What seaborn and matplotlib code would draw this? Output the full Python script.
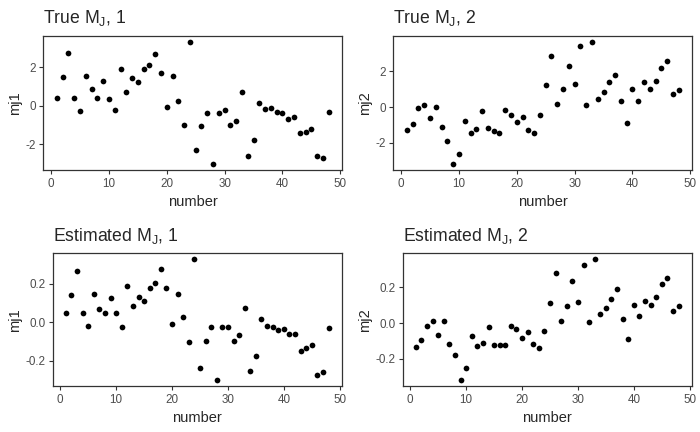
import matplotlib
matplotlib.use("Agg")
import matplotlib.pyplot as plt
import seaborn as sns

number = list(range(1, 49))

true_mj1 = [0.40, 1.49, 2.74, 0.40, -0.26, 1.54, 0.87, 0.40, 1.28, 0.35,
            -0.23, 1.91, 0.71, 1.44, 1.23, 1.91, 2.11, 2.69, 1.70, -0.07,
            1.54, 0.24, -1.01, 3.31, -2.30, -1.06, -0.38, -3.03, -0.38, -0.23,
            -1.01, -0.80, 0.71, -2.62, -1.79, 0.14, -0.17, -0.12, -0.33, -0.38,
            -0.69, -0.59, -1.42, -1.37, -1.21, -2.62, -2.72, -0.33]

true_mj2 = [-1.28, -0.95, -0.06, 0.11, -0.61, 0.00, -1.12, -1.90, -3.18, -2.62,
            -0.78, -1.45, -1.23, -0.22, -1.17, -1.34, -1.45, -0.17, -0.45, -0.84,
            -0.56, -1.28, -1.45, -0.45, 1.23, 2.85, 0.17, 1.00, 2.29, 1.28,
            3.40, 0.11, 3.63, 0.45, 0.84, 1.40, 1.79, 0.33, -0.89, 1.00,
            0.33, 1.40, 1.00, 1.45, 2.18, 2.57, 0.73, 0.95]

est_mj1 = [0.047, 0.140, 0.264, 0.047, -0.021, 0.145, 0.067, 0.047, 0.124, 0.047,
           -0.026, 0.186, 0.083, 0.129, 0.109, 0.176, 0.202, 0.274, 0.176, -0.010,
           0.145, 0.026, -0.103, 0.326, -0.238, -0.098, -0.026, -0.300, -0.026, -0.026,
           -0.098, -0.067, 0.072, -0.253, -0.176, 0.016, -0.021, -0.026, -0.041, -0.036,
           -0.062, -0.062, -0.150, -0.134, -0.119, -0.274, -0.259, -0.031]

est_mj2 = [-0.134, -0.095, -0.017, 0.011, -0.067, 0.011, -0.117, -0.179, -0.318, -0.251,
           -0.073, -0.128, -0.112, -0.022, -0.123, -0.123, -0.123, -0.017, -0.033, -0.084,
           -0.050, -0.117, -0.140, -0.045, 0.112, 0.279, 0.011, 0.095, 0.235, 0.117,
           0.324, 0.006, 0.357, 0.050, 0.084, 0.134, 0.191, 0.022, -0.089, 0.100,
           0.039, 0.123, 0.100, 0.145, 0.219, 0.251, 0.067, 0.095]

sns.set_style("ticks")
plt.rcParams["font.family"] = ["Liberation Sans", "DejaVu Sans"]
plt.rcParams["axes.unicode_minus"] = False
plt.rcParams["mathtext.fontset"] = "custom"
plt.rcParams["mathtext.rm"] = "Liberation Sans"

W, H = 700, 432
fig = plt.figure(figsize=(7, 4.32), dpi=100)


def panel(box, values, title, ylabel, yticks, ylabels):
    left, top, right, bottom = box
    ax = fig.add_axes([left / W, (H - bottom) / H, (right - left) / W, (bottom - top) / H])
    sns.scatterplot(x=number, y=values, ax=ax, color="black", s=17, linewidth=0)
    for side in ax.spines.values():
        side.set_visible(True)
        side.set_color("#333333")
        side.set_linewidth(0.9)
    ax.set_xticks([0, 10, 20, 30, 40, 50])
    ax.set_yticks(yticks)
    ax.set_yticklabels(ylabels)
    ax.tick_params(labelsize=8.4, labelcolor="#4D4D4D", color="#333333",
                   length=3, width=0.8, pad=2)
    ax.tick_params(axis="x", pad=3)
    ax.set_xlabel("number", fontsize=10.5, labelpad=3)
    ax.set_ylabel(ylabel, fontsize=10.5, labelpad=3)
    ax.set_title(title, loc="left", fontsize=12.7, pad=9)
    return ax


panel((43.3, 36, 342.3, 170), true_mj1, r"True $\mathregular{M_J}$, 1", "mj1",
      [-2, 0, 2], ["-2", "0", "2"])
panel((393.3, 36, 692.3, 170), true_mj2, r"True $\mathregular{M_J}$, 2", "mj2",
      [-2, 0, 2], ["-2", "0", "2"])
panel((52.7, 253.3, 341.7, 386), est_mj1, r"Estimated $\mathregular{M_J}$, 1", "mj1",
      [-0.2, 0.0, 0.2], ["-0.2", "0.0", "0.2"])
panel((402.7, 253.3, 691.7, 386), est_mj2, r"Estimated $\mathregular{M_J}$, 2", "mj2",
      [-0.2, 0.0, 0.2], ["-0.2", "0.0", "0.2"])

fig.savefig("out.png", dpi=100)
